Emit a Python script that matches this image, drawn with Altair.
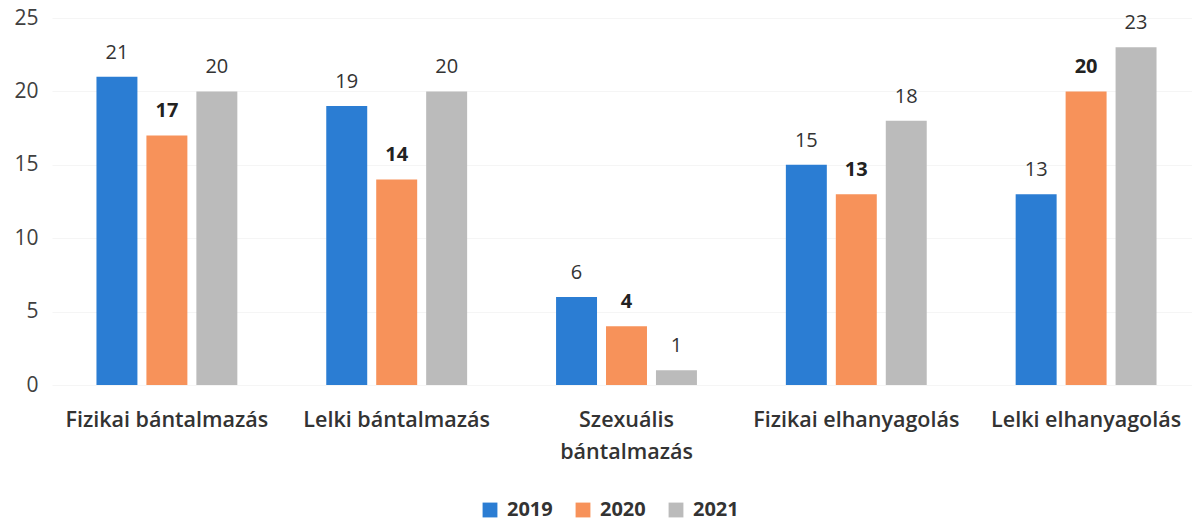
import altair as alt
import pandas as pd

categories = ["Fizikai bántalmazás", "Lelki bántalmazás", "Szexuális bántalmazás",
              "Fizikai elhanyagolás", "Lelki elhanyagolás"]
years = ["2019", "2020", "2021"]
v2019 = [21, 19, 6, 15, 13]
v2020 = [17, 14, 4, 13, 20]
v2021 = [20, 20, 1, 18, 23]
colors = ["#2B7DD3", "#F7925A", "#BBBBBB"]

rows = []
for i, c in enumerate(categories):
    for y, vals in zip(years, [v2019, v2020, v2021]):
        rows.append({"cat": c, "year": y, "value": vals[i]})
df = pd.DataFrame(rows)

FONT = "Open Sans"

x = alt.X("cat:N", sort=categories, title=None,
          scale=alt.Scale(paddingInner=0, paddingOuter=0, range=[0, 1149]),
          axis=alt.Axis(labelAngle=0, labelFontSize=21.5, labelFont=FONT, labelFontWeight=600,
                        labelColor="#333333", domain=False, ticks=False, labelPadding=24,
                        labelLineHeight=32, labelLimit=0, labelOverlap=False,
                        labelExpr="datum.label == 'Szexuális bántalmazás' ? ['Szexuális', 'bántalmazás'] : datum.label"))
xo = alt.XOffset("year:N", scale=alt.Scale(paddingInner=0.18, paddingOuter=0.89))
y = alt.Y("value:Q", title=None,
          scale=alt.Scale(domain=[0, 25], nice=False),
          axis=alt.Axis(values=[0, 5, 10, 15, 20, 25], labelFontSize=21, labelFont=FONT,
                        labelColor="#404040", domain=False, ticks=False, labelPadding=14,
                        grid=True, gridColor="#f5f5f5"))

bars = alt.Chart(df).mark_bar().encode(
    x=x, xOffset=xo, y=y,
    color=alt.Color("year:N", scale=alt.Scale(domain=years, range=colors),
                    legend=alt.Legend(title=None, orient="none", direction="horizontal",
                                      legendX=428, legendY=482, symbolType="square",
                                      symbolSize=220, symbolStrokeWidth=0,
                                      labelFontSize=20, labelFont=FONT, labelFontWeight="bold",
                                      labelColor="#333333", columnPadding=20, labelOffset=7))
)

labels_normal = alt.Chart(df).transform_filter("datum.year != '2020'").mark_text(
    baseline="bottom", dy=-14, fontSize=20, font=FONT, color="#333333").encode(
    x=x, xOffset=xo, y=y, text=alt.Text("value:Q"))

labels_bold = alt.Chart(df).transform_filter("datum.year == '2020'").mark_text(
    baseline="bottom", dy=-14, fontSize=20, font=FONT, color="#222222", fontWeight="bold").encode(
    x=x, xOffset=xo, y=y, text=alt.Text("value:Q"))

chart = (bars + labels_normal + labels_bold).properties(
    width=1140, height=367,
    autosize=alt.AutoSizeParams(type="none"),
    padding={"left": 52, "top": 18, "right": 0, "bottom": 141},
).configure_view(stroke=None)

chart.save("out.html", embed_options={"renderer": "svg", "actions": False})
